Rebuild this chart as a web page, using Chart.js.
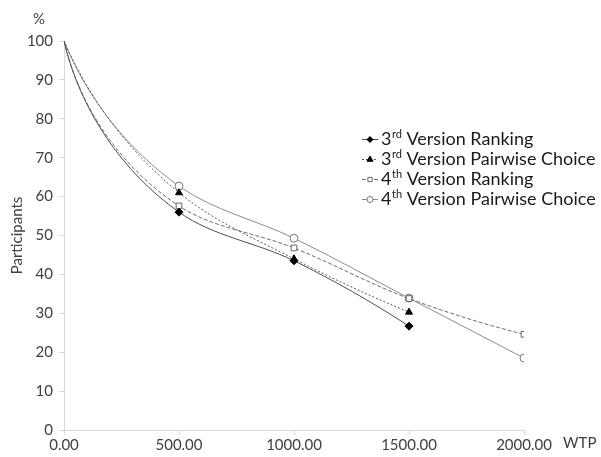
<!DOCTYPE html>
<html>
<head>
<meta charset="utf-8">
<script src="https://cdn.jsdelivr.net/npm/chart.js@4.4.1/dist/chart.umd.min.js"></script>
<style>
  html, body { margin: 0; padding: 0; background: #fff; }
  #wrap { position: relative; width: 601px; height: 457px; }
</style>
</head>
<body>
<div id="wrap"><canvas id="wtpChart" width="601" height="457"></canvas></div>
<script>
// WTP values (x) and share of participants (%) still willing to pay
const wtpLevels = [0, 500, 1000, 1500, 2000];
const rank3 = [100, 56.0, 43.5, 26.7];
const pair3 = [100, 61.0, 44.0, 30.3];
const rank4 = [100, 57.6, 46.8, 33.8, 24.6];
const pair4 = [100, 62.7, 49.3, 33.9, 18.5];

const seriesNames = [
    ["3", "rd", " Version Ranking"],
    ["3", "rd", " Version Pairwise Choice"],
    ["4", "th", " Version Ranking"],
    ["4", "th", " Version Pairwise Choice"]
];

const FONT = "Lato, 'Open Sans', sans-serif";
const TEXT = "#404040";
const AXIS = "#d9d9d9";
const SMOOTH = 0.34;

function toPoints(vals) {
    return vals.map((v, i) => ({ x: wtpLevels[i], y: v }));
}
function radii(vals) {
    return vals.map((_, i) => (i === 0 ? 0 : 4));
}

// Excel-like smoothing: tangent leans to the shorter neighbour,
// end segments are mirrored so the curve bends like the original
const excelSmooth = {
    id: "excelSmooth",
    beforeDatasetsDraw(chart) {
        chart.data.datasets.forEach((ds, di) => {
            const meta = chart.getDatasetMeta(di);
            const line = meta.dataset;
            const pts = meta.data;
            const n = pts.length;
            if (!line || n < 3) return;
            line.updateControlPoints(chart.chartArea, "x");

            const len = (a, b) => Math.hypot(b.x - a.x, b.y - a.y);
            // interior points
            for (let i = 1; i < n - 1; i++) {
                const p0 = pts[i - 1], p1 = pts[i], p2 = pts[i + 1];
                const d01 = len(p0, p1), d12 = len(p1, p2);
                let tx = (p1.x - p0.x) / d01 * d12 + (p2.x - p1.x) / d12 * d01;
                let ty = (p1.y - p0.y) / d01 * d12 + (p2.y - p1.y) / d12 * d01;
                const tl = Math.hypot(tx, ty);
                tx /= tl; ty /= tl;
                p1.cp1x = p1.x - tx * d01 * SMOOTH;
                p1.cp1y = p1.y - ty * d01 * SMOOTH;
                p1.cp2x = p1.x + tx * d12 * SMOOTH;
                p1.cp2y = p1.y + ty * d12 * SMOOTH;
            }
            // mirror a control point across the perpendicular bisector of a-b
            const mirror = (a, b, cx, cy) => {
                const mx = (a.x + b.x) / 2, my = (a.y + b.y) / 2;
                const ux = (b.x - a.x) / len(a, b), uy = (b.y - a.y) / len(a, b);
                const along = (cx - mx) * ux + (cy - my) * uy;
                return { x: cx - 2 * along * ux, y: cy - 2 * along * uy };
            };
            const first = mirror(pts[0], pts[1], pts[1].cp1x, pts[1].cp1y);
            pts[0].cp2x = first.x; pts[0].cp2y = first.y;
            const last = mirror(pts[n - 2], pts[n - 1], pts[n - 2].cp2x, pts[n - 2].cp2y);
            pts[n - 1].cp1x = last.x; pts[n - 1].cp1y = last.y;
            line._path = undefined;
        });
    }
};

// legend drawn on the canvas so that the "rd"/"th" can be superscript
const sideLegend = {
    id: "sideLegend",
    afterDraw(chart) {
        const ctx = chart.ctx;
        chart.data.datasets.forEach((ds, i) => {
            const y = 139.5 + i * 20;
            ctx.save();
            ctx.strokeStyle = ds.borderColor;
            ctx.lineWidth = 1;
            ctx.setLineDash(ds.borderDash || []);
            ctx.beginPath();
            ctx.moveTo(362, y);
            ctx.lineTo(378, y);
            ctx.stroke();
            ctx.setLineDash([]);
            ctx.fillStyle = ds.pointBackgroundColor;
            ctx.strokeStyle = ds.pointBorderColor;
            Chart.helpers.drawPoint(ctx, {
                pointStyle: ds.pointStyle,
                radius: ds.pointStyle === "triangle" ? 3.5 : 3,
                rotation: 0,
                borderWidth: 1
            }, 370, y);

            const parts = seriesNames[i];
            let x = 381;
            ctx.fillStyle = "#1a1a1a";
            ctx.textBaseline = "middle";
            ctx.font = "18px " + FONT;
            ctx.fillText(parts[0], x, y);
            x += ctx.measureText(parts[0]).width;
            ctx.font = "11px " + FONT;
            ctx.fillText(parts[1], x + 0.5, y - 5);
            x += ctx.measureText(parts[1]).width + 0.5;
            ctx.font = "18px " + FONT;
            ctx.fillText(parts[2], x, y);
            ctx.restore();
        });

        // unit labels
        ctx.save();
        ctx.fillStyle = TEXT;
        ctx.font = "15px " + FONT;
        ctx.textBaseline = "middle";
        ctx.textAlign = "left";
        ctx.fillText("%", 33, 19);
        ctx.fillText("WTP", 563, 443);
        ctx.restore();
    }
};

const ctx = document.getElementById("wtpChart").getContext("2d");

new Chart(ctx, {
    type: "line",
    data: {
        datasets: [
            {
                label: "3rd Version Ranking",
                data: toPoints(rank3),
                borderColor: "#4d4d4d",
                borderWidth: 1,
                pointStyle: "rectRot",
                pointRadius: radii(rank3),
                pointBackgroundColor: "#000",
                pointBorderColor: "#000",
                tension: 0.4
            },
            {
                label: "3rd Version Pairwise Choice",
                data: toPoints(pair3),
                borderColor: "#5a5a5a",
                borderWidth: 1,
                borderDash: [2, 2],
                pointStyle: "triangle",
                pointRadius: radii(pair3),
                pointBackgroundColor: "#000",
                pointBorderColor: "#000",
                tension: 0.4
            },
            {
                label: "4th Version Ranking",
                data: toPoints(rank4),
                borderColor: "#6e6e6e",
                borderWidth: 1,
                borderDash: [4, 2],
                pointStyle: "rect",
                pointRadius: radii(rank4),
                pointBackgroundColor: "#fff",
                pointBorderColor: "#666",
                tension: 0.4
            },
            {
                label: "4th Version Pairwise Choice",
                data: toPoints(pair4),
                borderColor: "#8c8c8c",
                borderWidth: 1,
                pointStyle: "circle",
                pointRadius: radii(pair4),
                pointBackgroundColor: "#fff",
                pointBorderColor: "#777",
                tension: 0.4
            }
        ]
    },
    options: {
        responsive: false,
        animation: false,
        layout: { padding: { top: 41, right: 77, left: 0, bottom: 0 } },
        plugins: {
            legend: { display: false },
            tooltip: { enabled: false }
        },
        scales: {
            x: {
                type: "linear",
                min: 0,
                max: 2000,
                afterFit: (s) => { s.height = 27; },
                border: { color: AXIS },
                grid: { drawOnChartArea: false, color: AXIS, tickLength: 5 },
                ticks: {
                    stepSize: 500,
                    padding: 1,
                    maxRotation: 0,
                    color: TEXT,
                    font: { family: FONT, size: 15 },
                    callback: (v) => v.toFixed(2)
                }
            },
            y: {
                min: 0,
                max: 100,
                afterFit: (s) => { s.width = 64; },
                border: { color: AXIS },
                grid: { drawOnChartArea: false, color: AXIS, tickLength: 5 },
                title: {
                    display: true,
                    text: "Participants",
                    color: TEXT,
                    padding: { top: 8, bottom: 0 },
                    font: { family: FONT, size: 15 }
                },
                ticks: {
                    stepSize: 10,
                    padding: 6,
                    color: TEXT,
                    font: { family: FONT, size: 15 }
                }
            }
        }
    },
    plugins: [excelSmooth, sideLegend]
});
</script>
</body>
</html>
